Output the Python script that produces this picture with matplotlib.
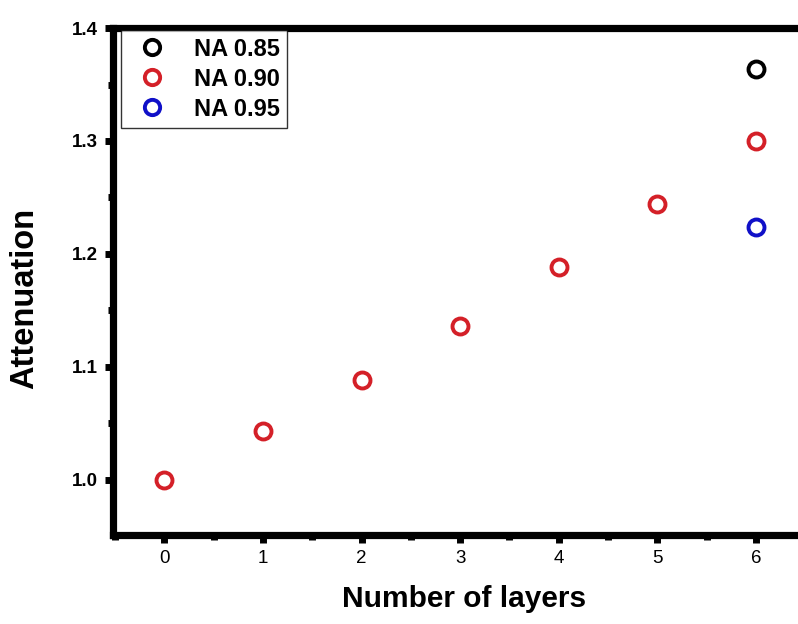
import matplotlib
matplotlib.use("Agg")
import matplotlib.pyplot as plt
from matplotlib.ticker import MultipleLocator

layers_090 = [0, 1, 2, 3, 4, 5, 6]
atten_090 = [1.000, 1.043, 1.088, 1.136, 1.188, 1.244, 1.300]
layers_085 = [6]
atten_085 = [1.364]
layers_095 = [6]
atten_095 = [1.224]

plt.rcParams['font.family'] = ['Liberation Sans', 'DejaVu Sans']

fig = plt.figure(figsize=(7.98, 6.24), dpi=100)
ax = fig.add_axes([0.1416, 0.1426, 0.88, 0.8124])

mk = dict(linestyle='none', marker='o', markersize=11.5, markeredgewidth=2.8,
          markerfacecolor='white')
ax.plot(layers_085, atten_085, markeredgecolor='black', label='NA 0.85', **mk)
ax.plot(layers_090, atten_090, markeredgecolor='#d42028', label='NA 0.90', **mk)
ax.plot(layers_095, atten_095, markeredgecolor='#1010c8', label='NA 0.95', **mk)

ax.set_xlim(-0.52, 6.6)
ax.set_ylim(0.951, 1.4)
ax.xaxis.set_major_locator(MultipleLocator(1))
ax.xaxis.set_minor_locator(MultipleLocator(0.5))
ax.yaxis.set_major_locator(MultipleLocator(0.1))
ax.yaxis.set_minor_locator(MultipleLocator(0.05))

for s in ax.spines.values():
    s.set_linewidth(5.2)
ax.tick_params(which='major', direction='out', length=6, width=5,
               labelsize=13.5, pad=5)
ax.tick_params(which='minor', direction='out', length=3.5, width=5)
for lbl in ax.get_yticklabels():
    lbl.set_fontweight('bold')
for lbl in ax.get_xticklabels():
    lbl.set_fontweight('normal')

ax.set_xlabel('Number of layers', fontsize=21.5, fontweight='bold', labelpad=13)
ax.set_ylabel('Attenuation', fontsize=23.5, fontweight='bold')
ax.yaxis.set_label_coords(-0.103, 0.467)

leg = ax.legend(loc='upper left', bbox_to_anchor=(0.008, 1.0), fontsize=17,
                frameon=True, fancybox=False, edgecolor='black',
                handletextpad=0.8, borderpad=0.3, labelspacing=0.3,
                handlelength=2.0, borderaxespad=0.1)
leg.get_frame().set_linewidth(1.0)
for t in leg.get_texts():
    t.set_fontweight('bold')
for h in leg.legend_handles:
    h.set_markersize(11)
    h.set_markeredgewidth(2.8)

fig.savefig('out.png', dpi=100)
